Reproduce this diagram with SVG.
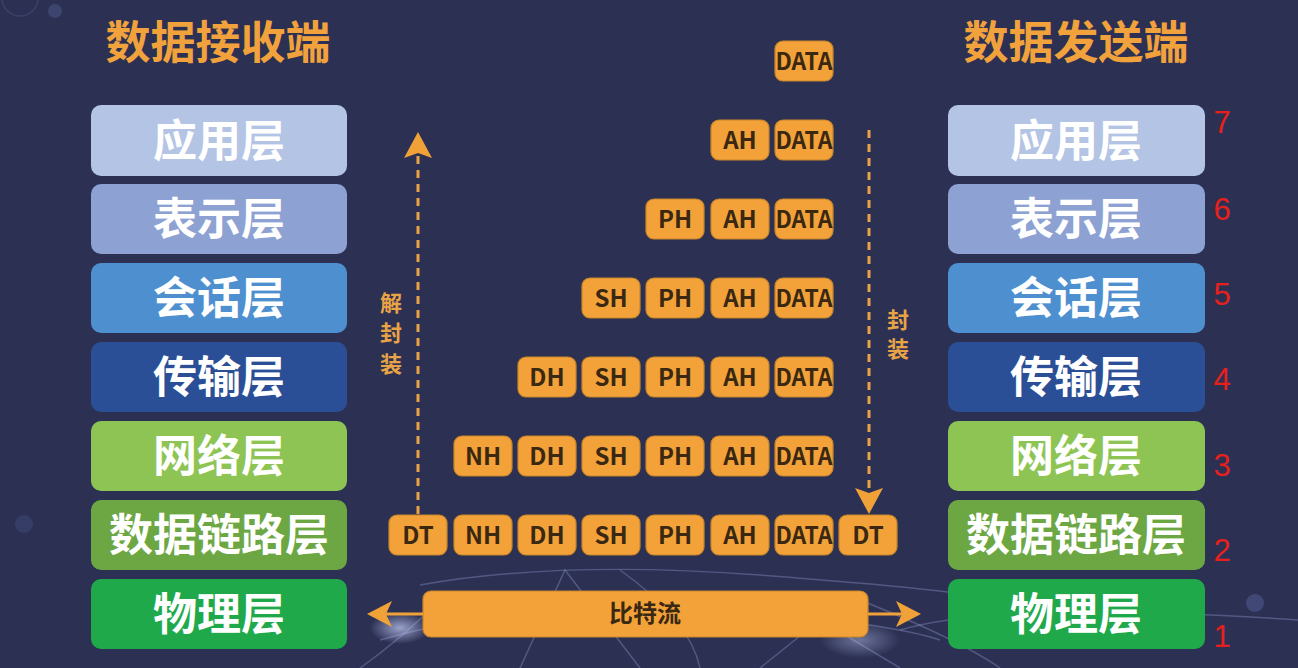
<svg xmlns="http://www.w3.org/2000/svg" width="1298" height="668" viewBox="0 0 1298 668">
<style>
.title{font-family:"Noto Sans CJK SC","Noto Sans",sans-serif;font-weight:700;font-size:45px;fill:#f1a23c;text-anchor:middle}
.layer{stroke:none}
.lt{font-family:"Noto Sans CJK SC","Noto Sans",sans-serif;font-weight:700;font-size:44px;fill:#ffffff;text-anchor:middle}
.tag{fill:#f3a23a;stroke:#c98628;stroke-width:1.2}
.tt{font-family:"Noto Sans CJK SC","Noto Sans",sans-serif;font-weight:700;font-size:24px;fill:#3a2812;text-anchor:middle}
.num{font-family:"Liberation Sans",Arial,sans-serif;font-size:31px;fill:#e8201c;text-anchor:middle}
.dash{stroke:#e9a347;stroke-width:3;stroke-dasharray:8 6;fill:none}
.vlab{font-family:"Noto Sans CJK SC","Noto Sans",sans-serif;font-weight:700;font-size:22px;fill:#e9a347;text-anchor:middle}
.ah{fill:#f0a238}
.bg-line{stroke:#a9b4ee;stroke-width:1.5;fill:none;opacity:0.3}
</style>
<defs>
<radialGradient id="glow" cx="0.5" cy="0.5" r="0.5">
<stop offset="0" stop-color="#c9d2ff" stop-opacity="0.7"/>
<stop offset="1" stop-color="#c9d2ff" stop-opacity="0"/>
</radialGradient>
</defs>
<rect width="1298" height="668" fill="#2c3153"/>
<g id="background">
<circle cx="55" cy="11" r="7" fill="#4a5280" opacity="0.6"/>
<circle cx="20" cy="-2" r="18" fill="none" stroke="#4a5280" stroke-width="1.5" opacity="0.5"/>
<circle cx="24" cy="524" r="9" fill="#3b4470" opacity="0.7"/>
<circle cx="1255" cy="603" r="9" fill="#4a5385" opacity="0.7"/>
<path class="bg-line" d="M420 585 Q560 560 760 575 T1000 600"/>
<path class="bg-line" d="M380 640 Q520 600 700 610 T940 640"/>
<path class="bg-line" d="M520 668 L565 570 L640 668"/>
<path class="bg-line" d="M700 668 Q690 620 620 570"/>
<path class="bg-line" d="M760 668 L820 620 L900 668"/>
<path class="bg-line" d="M860 600 Q960 640 1000 668"/>
<path class="bg-line" d="M440 600 Q400 640 360 668"/>
<path class="bg-line" d="M900 630 Q1000 600 1298 620"/>
<ellipse cx="400" cy="628" rx="30" ry="16" fill="url(#glow)"/>
<ellipse cx="860" cy="640" rx="40" ry="18" fill="url(#glow)" opacity="0.6"/>
</g>
<g id="titles">
<text class="title" x="218" y="59">数据接收端</text>
<text class="title" x="1076" y="59">数据发送端</text>
</g>
<g id="receiver">
<g id="r7"><rect class="layer" x="91" y="105" width="256" height="71" rx="10" fill="#b4c4e4"/><text class="lt" x="219" y="157">应用层</text></g>
<g id="r6"><rect class="layer" x="91" y="184" width="256" height="70" rx="10" fill="#8da2d3"/><text class="lt" x="219" y="235">表示层</text></g>
<g id="r5"><rect class="layer" x="91" y="263" width="256" height="70" rx="10" fill="#4e8fd0"/><text class="lt" x="219" y="314">会话层</text></g>
<g id="r4"><rect class="layer" x="91" y="342" width="256" height="70" rx="10" fill="#2b4f96"/><text class="lt" x="219" y="393">传输层</text></g>
<g id="r3"><rect class="layer" x="91" y="421" width="256" height="70" rx="10" fill="#8dc454"/><text class="lt" x="219" y="472">网络层</text></g>
<g id="r2"><rect class="layer" x="91" y="500" width="256" height="70" rx="10" fill="#6da743"/><text class="lt" x="219" y="551">数据链路层</text></g>
<g id="r1"><rect class="layer" x="91" y="579" width="256" height="70" rx="10" fill="#20a94b"/><text class="lt" x="219" y="630">物理层</text></g>
</g>
<g id="sender">
<g id="s7"><rect class="layer" x="948" y="105" width="257" height="71" rx="10" fill="#b4c4e4"/><text class="lt" x="1076" y="157">应用层</text></g>
<g id="s6"><rect class="layer" x="948" y="184" width="257" height="70" rx="10" fill="#8da2d3"/><text class="lt" x="1076" y="235">表示层</text></g>
<g id="s5"><rect class="layer" x="948" y="263" width="257" height="70" rx="10" fill="#4e8fd0"/><text class="lt" x="1076" y="314">会话层</text></g>
<g id="s4"><rect class="layer" x="948" y="342" width="257" height="70" rx="10" fill="#2b4f96"/><text class="lt" x="1076" y="393">传输层</text></g>
<g id="s3"><rect class="layer" x="948" y="421" width="257" height="70" rx="10" fill="#8dc454"/><text class="lt" x="1076" y="472">网络层</text></g>
<g id="s2"><rect class="layer" x="948" y="500" width="257" height="70" rx="10" fill="#6da743"/><text class="lt" x="1076" y="551">数据链路层</text></g>
<g id="s1"><rect class="layer" x="948" y="579" width="257" height="70" rx="10" fill="#20a94b"/><text class="lt" x="1076" y="630">物理层</text></g>
</g>
<g id="numbers">
<text class="num" x="1222" y="133">7</text>
<text class="num" x="1222" y="220">6</text>
<text class="num" x="1222" y="305">5</text>
<text class="num" x="1222" y="390">4</text>
<text class="num" x="1222" y="476">3</text>
<text class="num" x="1222" y="561">2</text>
<text class="num" x="1222" y="647">1</text>
</g>
<g id="tags">
<g id="row0">
<rect class="tag" x="775" y="41" width="58" height="40" rx="8"/><text class="tt" x="804" y="69.5" textLength="57" lengthAdjust="spacingAndGlyphs">DATA</text>
</g>
<g id="row1">
<rect class="tag" x="711" y="120" width="58" height="40" rx="8"/><text class="tt" x="740" y="148.5">AH</text>
<rect class="tag" x="775" y="120" width="58" height="40" rx="8"/><text class="tt" x="804" y="148.5" textLength="57" lengthAdjust="spacingAndGlyphs">DATA</text>
</g>
<g id="row2">
<rect class="tag" x="646" y="199" width="58" height="40" rx="8"/><text class="tt" x="675" y="227.5">PH</text>
<rect class="tag" x="711" y="199" width="58" height="40" rx="8"/><text class="tt" x="740" y="227.5">AH</text>
<rect class="tag" x="775" y="199" width="58" height="40" rx="8"/><text class="tt" x="804" y="227.5" textLength="57" lengthAdjust="spacingAndGlyphs">DATA</text>
</g>
<g id="row3">
<rect class="tag" x="582" y="278" width="58" height="40" rx="8"/><text class="tt" x="611" y="306.5">SH</text>
<rect class="tag" x="646" y="278" width="58" height="40" rx="8"/><text class="tt" x="675" y="306.5">PH</text>
<rect class="tag" x="711" y="278" width="58" height="40" rx="8"/><text class="tt" x="740" y="306.5">AH</text>
<rect class="tag" x="775" y="278" width="58" height="40" rx="8"/><text class="tt" x="804" y="306.5" textLength="57" lengthAdjust="spacingAndGlyphs">DATA</text>
</g>
<g id="row4">
<rect class="tag" x="518" y="357" width="58" height="40" rx="8"/><text class="tt" x="547" y="385.5">DH</text>
<rect class="tag" x="582" y="357" width="58" height="40" rx="8"/><text class="tt" x="611" y="385.5">SH</text>
<rect class="tag" x="646" y="357" width="58" height="40" rx="8"/><text class="tt" x="675" y="385.5">PH</text>
<rect class="tag" x="711" y="357" width="58" height="40" rx="8"/><text class="tt" x="740" y="385.5">AH</text>
<rect class="tag" x="775" y="357" width="58" height="40" rx="8"/><text class="tt" x="804" y="385.5" textLength="57" lengthAdjust="spacingAndGlyphs">DATA</text>
</g>
<g id="row5">
<rect class="tag" x="454" y="436" width="58" height="40" rx="8"/><text class="tt" x="483" y="464.5">NH</text>
<rect class="tag" x="518" y="436" width="58" height="40" rx="8"/><text class="tt" x="547" y="464.5">DH</text>
<rect class="tag" x="582" y="436" width="58" height="40" rx="8"/><text class="tt" x="611" y="464.5">SH</text>
<rect class="tag" x="646" y="436" width="58" height="40" rx="8"/><text class="tt" x="675" y="464.5">PH</text>
<rect class="tag" x="711" y="436" width="58" height="40" rx="8"/><text class="tt" x="740" y="464.5">AH</text>
<rect class="tag" x="775" y="436" width="58" height="40" rx="8"/><text class="tt" x="804" y="464.5" textLength="57" lengthAdjust="spacingAndGlyphs">DATA</text>
</g>
<g id="row6">
<rect class="tag" x="389" y="515" width="58" height="40" rx="8"/><text class="tt" x="418" y="543.5">DT</text>
<rect class="tag" x="454" y="515" width="58" height="40" rx="8"/><text class="tt" x="483" y="543.5">NH</text>
<rect class="tag" x="518" y="515" width="58" height="40" rx="8"/><text class="tt" x="547" y="543.5">DH</text>
<rect class="tag" x="582" y="515" width="58" height="40" rx="8"/><text class="tt" x="611" y="543.5">SH</text>
<rect class="tag" x="646" y="515" width="58" height="40" rx="8"/><text class="tt" x="675" y="543.5">PH</text>
<rect class="tag" x="711" y="515" width="58" height="40" rx="8"/><text class="tt" x="740" y="543.5">AH</text>
<rect class="tag" x="775" y="515" width="58" height="40" rx="8"/><text class="tt" x="804" y="543.5" textLength="57" lengthAdjust="spacingAndGlyphs">DATA</text>
<rect class="tag" x="839" y="515" width="58" height="40" rx="8"/><text class="tt" x="868" y="543.5">DT</text>
</g>
</g>
<g id="bitstream">
<rect x="423" y="591" width="445" height="46" rx="8" fill="#f3a23a" stroke="#c98628" stroke-width="1.2"/>
<text class="tt" x="645" y="622" font-size="22">比特流</text>
</g>
<g id="connectors">
<line class="dash" x1="418" y1="514" x2="418" y2="155"/>
<path class="ah" d="M418 132 L432 158 L418 153 L404 158 Z"/>
<line class="dash" x1="869" y1="130" x2="869" y2="492"/>
<path class="ah" d="M869 514 L855 488 L869 493 L883 488 Z"/>
<line x1="380" y1="614" x2="423" y2="614" stroke="#f0a238" stroke-width="3"/>
<line x1="868" y1="614" x2="908" y2="614" stroke="#f0a238" stroke-width="3"/>
<path class="ah" d="M367 614 L392 601 L386 614 L392 627 Z"/>
<path class="ah" d="M921 614 L896 601 L902 614 L896 627 Z"/>
</g>
<g id="labels">
<text class="vlab" x="391" y="311">解</text>
<text class="vlab" x="391" y="341">封</text>
<text class="vlab" x="391" y="372">装</text>
<text class="vlab" x="898" y="328">封</text>
<text class="vlab" x="898" y="357">装</text>
</g>
</svg>
